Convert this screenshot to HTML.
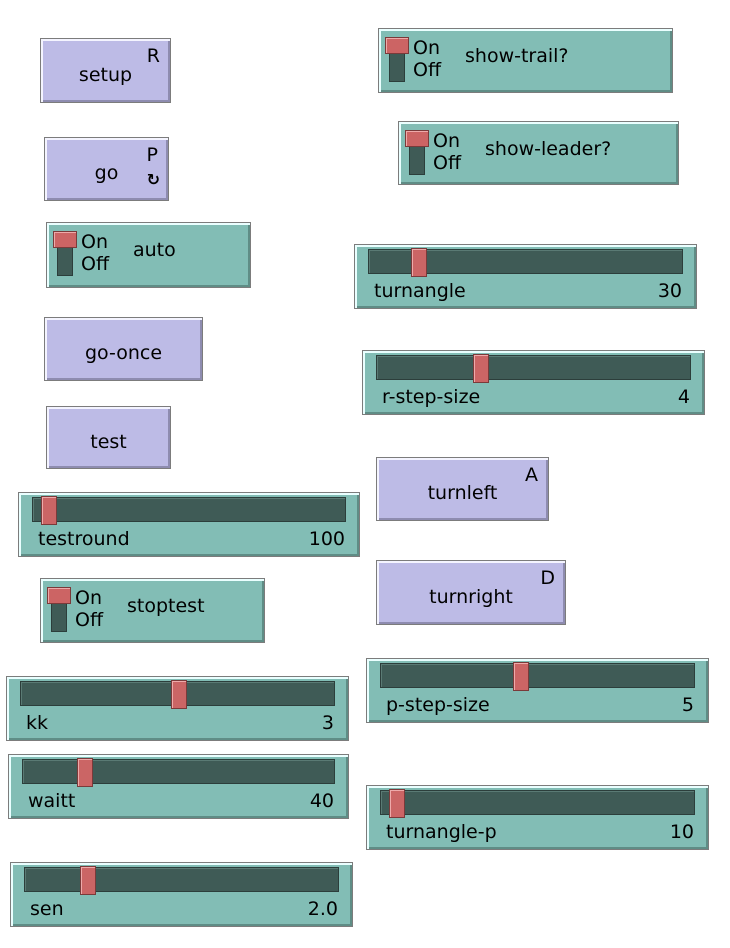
<!DOCTYPE html>
<html><head><meta charset="utf-8"><style>
body{margin:0;width:730px;height:948px;background:#fff;position:relative;overflow:hidden;font-family:"DejaVu Sans","Liberation Sans",sans-serif;font-size:19px;color:#000}
.w{position:absolute;box-sizing:border-box;border:1px solid #7c7c7c;box-shadow:inset 2px 2px 0 #eaffff,inset -2px -2px 0 #5f8d86}
.b{background:#bdbbe6;box-shadow:inset 2px 2px 0 #f4f4ff,inset -2px -2px 0 #8e8cb0}
.g{background:#82bdb5}
.t{position:absolute;white-space:nowrap}
.tr{position:absolute;background:#3f5b56;border:1px solid #2c3e3b;box-shadow:inset 1px 1px 0 #5a7a74}
.th{position:absolute;width:14px;height:27px;background:#cb6565;border:1px solid #7a3a3a;box-shadow:inset 1px 1px 0 #eaa}
.sw1{position:absolute;left:6px;top:8px;width:22px;height:15px;background:#cc6464;border:1px solid #7a3a3a;box-shadow:inset 1px 1px 0 #eaa}
.sw2{position:absolute;left:10px;top:24px;width:14px;height:27px;background:#3f5b56;border:1px solid #2c3e3b}
</style></head><body>
<script>
function btn(x,y,w,h,l,k,f){document.write('<div class="w b" style="left:'+x+'px;top:'+y+'px;width:'+w+'px;height:'+h+'px"><div class="t" style="left:0;width:100%;text-align:center;top:'+(h/2-8)+'px">'+l+'</div>'+(k?'<div class="t" style="right:10px;top:6px">'+k+'</div>':'')+(f?'<div class="t" style="right:8px;top:32px;font-size:16px;font-weight:bold">&#x21BB;</div>':'')+'</div>');}
function sw(x,y,w,h,l){document.write('<div class="w g" style="left:'+x+'px;top:'+y+'px;width:'+w+'px;height:'+h+'px"><div class="sw2"></div><div class="sw1"></div><div class="t" style="left:34px;top:8px;line-height:22px">On<br>Off</div><div class="t" style="left:86px;top:16px">'+l+'</div></div>');}
function sl(x,y,w,l,v,tx){var h=65;document.write('<div class="w g" style="left:'+x+'px;top:'+y+'px;width:'+w+'px;height:'+h+'px"><div class="tr" style="left:13px;top:4px;width:'+(w-30)+'px;height:23px"></div><div class="th" style="left:'+(tx-x)+'px;top:3px"></div><div class="t" style="left:19px;top:35px">'+l+'</div><div class="t" style="right:14px;top:35px">'+v+'</div></div>');}
btn(40,38,131,65,'setup','R');
btn(44,137,125,64,'go','P',1);
sw(46,222,205,66,'auto');
btn(44,317,159,64,'go-once');
btn(46,406,125,63,'test');
sl(18,492,342,'testround','100',40);
sw(40,578,225,65,'stoptest');
sl(6,676,343,'kk','3',170);
sl(8,754,341,'waitt','40',76);
sl(10,862,343,'sen','2.0',79);
sw(378,28,295,65,'show-trail?');
sw(398,121,281,64,'show-leader?');
sl(354,244,343,'turnangle','30',410);
sl(362,350,343,'r-step-size','4',472);
btn(376,457,173,64,'turnleft','A');
btn(376,560,190,65,'turnright','D');
sl(366,658,343,'p-step-size','5',512);
sl(366,785,343,'turnangle-p','10',388);
</script>
</body></html>
